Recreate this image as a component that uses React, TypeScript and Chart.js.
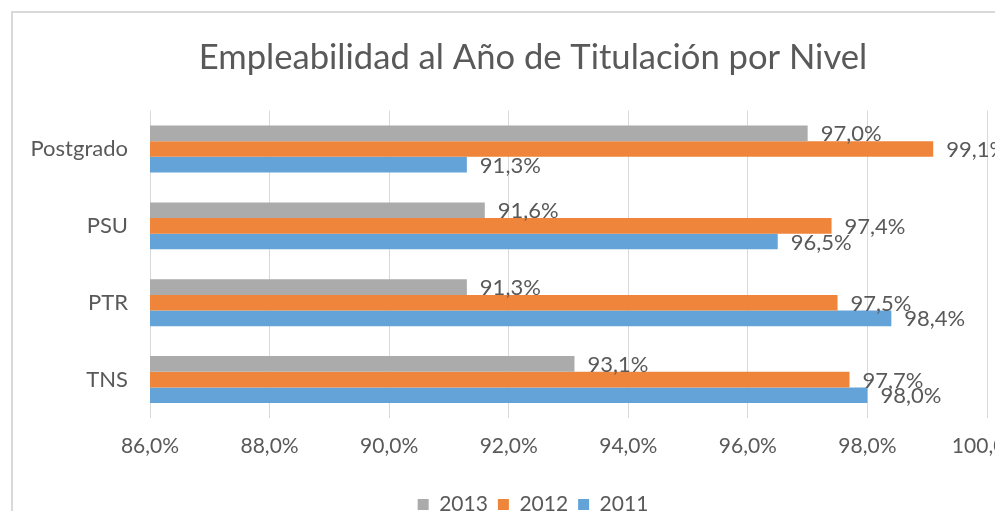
import React, { useEffect, useRef } from "react";
import { Chart, registerables } from "chart.js";

Chart.register(...registerables);

const categories = ["Postgrado", "PSU", "PTR", "TNS"];
const seriesNames = ["2013", "2012", "2011"];
const values2013 = [97.0, 91.6, 91.3, 93.1];
const values2012 = [99.1, 97.4, 97.5, 97.7];
const values2011 = [91.3, 96.5, 98.4, 98.0];
const seriesColors = ["#ABABAB", "#EE853A", "#64A3D8"];
const xMin = 86;
const xMax = 100;
const xStep = 2;
const titleText = "Empleabilidad al Año de Titulación por Nivel";

const FONT = "Lato";
const TEXT_COLOR = "#595959";

const fmt = (v: number) => v.toFixed(1).replace(".", ",") + "%";

const valueLabels = {
  id: "valueLabels",
  afterDatasetsDraw(chart: any) {
    const ctx = chart.ctx;
    ctx.save();
    ctx.font = `22px ${FONT}`;
    ctx.fillStyle = TEXT_COLOR;
    ctx.textAlign = "left";
    ctx.textBaseline = "middle";
    chart.data.datasets.forEach((ds: any, i: number) => {
      const meta = chart.getDatasetMeta(i);
      meta.data.forEach((el: any, j: number) => {
        ctx.fillText(fmt(ds.data[j]), el.x + 13, el.y + 1);
      });
    });
    ctx.restore();
  },
};

// category labels drawn from the y scale (avoids the scale's label clipping)
const categoryLabels = {
  id: "categoryLabels",
  afterDraw(chart: any) {
    const ctx = chart.ctx;
    const y = chart.scales.y;
    ctx.save();
    ctx.font = `22px ${FONT}`;
    ctx.fillStyle = TEXT_COLOR;
    ctx.textAlign = "right";
    ctx.textBaseline = "middle";
    chart.data.labels.forEach((lab: string, i: number) => {
      ctx.fillText(lab, chart.chartArea.left - 22, y.getPixelForTick(i));
    });
    ctx.restore();
  },
};

export default function App() {
  const ref = useRef<HTMLCanvasElement | null>(null);
  useEffect(() => {
    if (!ref.current) return;
    const data = [values2013, values2012, values2011];
    const chart = new Chart(ref.current, {
      type: "bar",
      data: {
        labels: categories,
        datasets: seriesNames.map((name, i) => ({
          label: name,
          data: data[i],
          backgroundColor: seriesColors[i],
          borderWidth: 0,
          barPercentage: 1,
          categoryPercentage: 0.61,
        })),
      },
      options: {
        indexAxis: "y",
        animation: false,
        responsive: false,
        maintainAspectRatio: false,
        layout: { padding: { left: 66, right: 66, top: 0, bottom: 0 } },
        plugins: {
          title: {
            display: true,
            text: titleText,
            color: TEXT_COLOR,
            font: { family: FONT, size: 34.6, weight: "normal" },
            padding: { top: 24, bottom: 32 },
          },
          legend: {
            display: true,
            position: "bottom",
            labels: {
              boxWidth: 11,
              boxHeight: 11,
              color: TEXT_COLOR,
              font: { family: FONT, size: 21 },
              padding: 10,
            },
          },
          tooltip: { enabled: false },
        },
        scales: {
          x: {
            min: xMin,
            max: xMax,
            ticks: {
              stepSize: xStep,
              color: TEXT_COLOR,
              font: { family: FONT, size: 21 },
              padding: 16,
              callback: (v: any) => fmt(Number(v)),
            },
            grid: { color: "#D9D9D9", drawTicks: false, lineWidth: 1 },
            border: { display: false },
            afterFit: (scale: any) => {
              scale.height = 66;
            },
          },
          y: {
            ticks: { display: false },
            grid: { display: false, drawTicks: false },
            border: { display: false },
            afterFit: (scale: any) => {
              scale.width = 71;
            },
          },
        },
      },
      plugins: [valueLabels, categoryLabels],
    });
    return () => chart.destroy();
  }, []);

  return (
    <div
      style={{
        position: "fixed",
        left: 0,
        top: 0,
        width: 995,
        height: 511,
        overflow: "hidden",
        background: "#ffffff",
      }}
    >
      <div
        style={{
          position: "absolute",
          left: 11,
          top: 11,
          width: 1040,
          height: 512,
          border: "2px solid #D9D9D9",
          background: "#ffffff",
        }}
      >
        <canvas ref={ref} width={1040} height={512} style={{ display: "block" }} />
      </div>
    </div>
  );
}
